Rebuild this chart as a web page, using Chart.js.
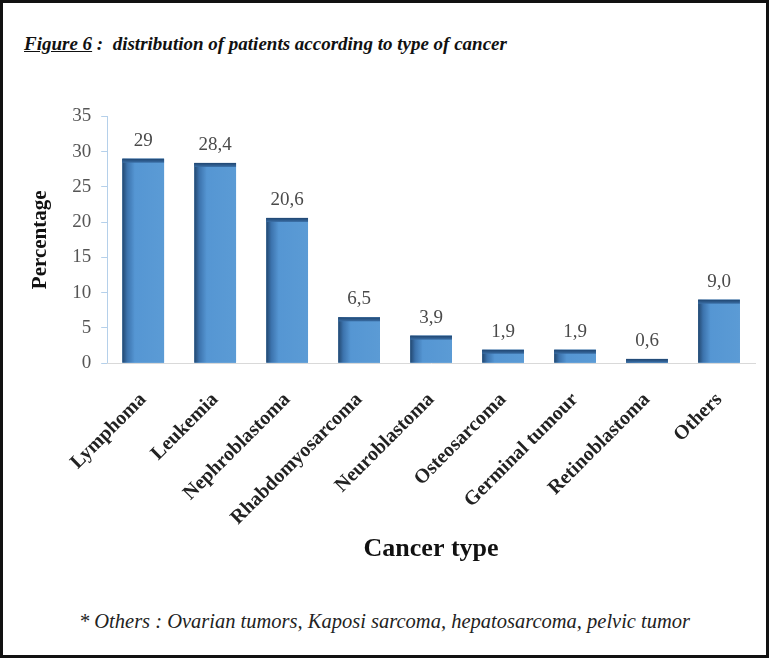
<!DOCTYPE html>
<html>
<head>
<meta charset="utf-8">
<script src="https://cdn.jsdelivr.net/npm/chart.js@4"></script>
<style>
  body { margin: 0; background: #fff; }
  #frame {
    position: absolute; left: 0; top: 0;
    width: 769px; height: 658px;
    box-sizing: border-box;
    border: 3px solid #111;
    background: #fff;
  }
  .serif { font-family: "Liberation Serif", "Times New Roman", serif; }
  #title {
    position: absolute; left: 24px; top: 33px;
    font-size: 19px; font-weight: bold; font-style: italic;
    color: #111;
    white-space: nowrap;
  }
  #note {
    position: absolute; left: 0; width: 769px; top: 610px;
    text-align: center;
    font-size: 20.5px; font-style: italic;
    color: #222;
  }
  #wrap { position: absolute; left: 3px; top: 95px; width: 762px; height: 477px; }
</style>
</head>
<body>
<div id="frame"></div>
<div id="title" class="serif"><u>Figure 6</u> :&nbsp; distribution of patients according to type of cancer</div>
<div id="wrap"><canvas id="cancerChart"></canvas></div>
<div id="note" class="serif">* Others : Ovarian tumors, Kaposi sarcoma, hepatosarcoma, pelvic tumor</div>
<script>
const categories = ["Lymphoma", "Leukemia", "Nephroblastoma", "Rhabdomyosarcoma", "Neuroblastoma",
    "Osteosarcoma", "Germinal tumour", "Retinoblastoma", "Others"];
const percentages = [29, 28.4, 20.6, 6.5, 3.9, 1.9, 1.9, 0.6, 9.0];
const valueLabels = ["29", "28,4", "20,6", "6,5", "3,9", "1,9", "1,9", "0,6", "9,0"];
const yTicks = [0, 5, 10, 15, 20, 25, 30, 35];

const serif = "'Liberation Serif', 'Times New Roman', serif";

// shade bars like the old 3D office style and put the values on top
const barDecor = {
    id: "barDecor",
    afterDatasetsDraw(chart) {
        const ctx = chart.ctx;
        const meta = chart.getDatasetMeta(0);
        meta.data.forEach((bar, i) => {
            const left = bar.x - bar.width / 2;
            const top = bar.y;
            const h = bar.base - bar.y;
            const g = ctx.createLinearGradient(left, 0, left + bar.width, 0);
            g.addColorStop(0, "#22476f");
            g.addColorStop(0.12, "#3c73ad");
            g.addColorStop(0.3, "#5596d3");
            g.addColorStop(1, "#5b9bd5");
            ctx.save();
            ctx.fillStyle = g;
            ctx.fillRect(left, top, bar.width, h);
            const band = Math.min(4, h);
            const tg = ctx.createLinearGradient(0, top, 0, top + band);
            tg.addColorStop(0, "#1f4570");
            tg.addColorStop(1, "#3a6ea5");
            ctx.fillStyle = tg;
            ctx.fillRect(left, top, bar.width, band);

            ctx.fillStyle = "#4a4a4a";
            ctx.font = "19px " + serif;
            ctx.textAlign = "center";
            ctx.textBaseline = "alphabetic";
            ctx.fillText(valueLabels[i], bar.x, top - 13);
            ctx.restore();
        });
    }
};

new Chart(document.getElementById("cancerChart").getContext("2d"), {
    type: "bar",
    data: {
        labels: categories,
        datasets: [{
            label: "Percentage",
            data: percentages,
            backgroundColor: "#5b9bd5",
            borderWidth: 0,
            categoryPercentage: 1,
            barPercentage: 0.58
        }]
    },
    options: {
        responsive: true,
        maintainAspectRatio: false,
        animation: false,
        layout: { padding: { top: 14, right: 10, left: 21, bottom: 3 } },
        plugins: {
            legend: { display: false },
            tooltip: { enabled: false }
        },
        scales: {
            y: {
                min: 0,
                max: 35,
                afterBuildTicks: axis => { axis.ticks = yTicks.map(v => ({ value: v })); },
                ticks: {
                    color: "#555",
                    padding: 10,
                    font: { family: serif, size: 19 }
                },
                grid: { drawOnChartArea: false, drawTicks: true, tickLength: 6, color: "#b5d0ea" },
                border: { color: "#b5d0ea" },
                title: {
                    display: true,
                    text: "Percentage",
                    color: "#111",
                    font: { family: serif, size: 21, weight: "bold" },
                    padding: { top: 4, bottom: 9 }
                }
            },
            x: {
                ticks: {
                    color: "#222",
                    minRotation: 45,
                    maxRotation: 45,
                    autoSkip: false,
                    padding: 17,
                    font: { family: serif, size: 20, weight: "bold" }
                },
                grid: { display: false },
                border: { color: "#d9d9d9" },
                title: {
                    display: true,
                    text: "Cancer type",
                    color: "#111",
                    font: { family: serif, size: 26, weight: "bold" },
                    padding: { top: -13 }
                }
            }
        }
    },
    plugins: [barDecor]
});
</script>
</body>
</html>
